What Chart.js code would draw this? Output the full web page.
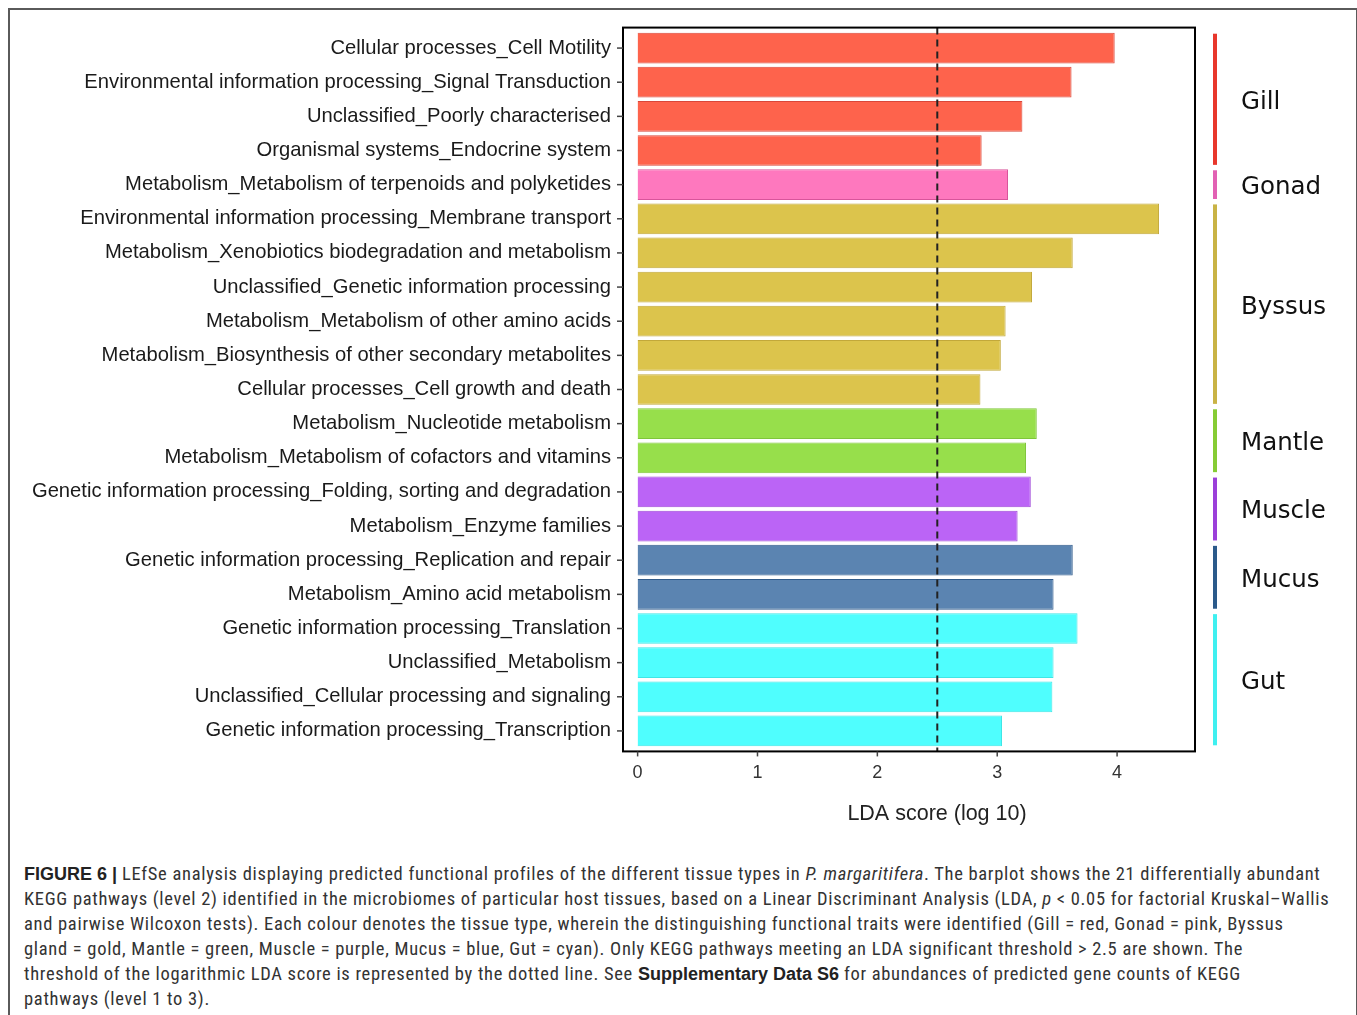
<!DOCTYPE html>
<html>
<head>
<meta charset="utf-8">
<script src="https://cdn.jsdelivr.net/npm/chart.js@4/dist/chart.umd.min.js"></script>
<style>
  body { margin: 0; background: #fff; }
  #frame {
    position: absolute; left: 8px; top: 8px; width: 1346px; height: 1020px;
    border: 2px solid #5a5a5a; border-bottom: none;
  }
  #chart_box { position: absolute; left: 0; top: 0; width: 1357px; height: 850px; }
  #caption {
    position: absolute; left: 24px; top: 862px; width: 1330px;
    font-family: "Liberation Sans Narrow", "Roboto Condensed", "Liberation Sans", Arial, sans-serif;
    font-size: 18.5px; line-height: 25px; letter-spacing: 0.7px; color: #333; white-space: nowrap;
  }
  #caption b { color: #222; letter-spacing: 0; font-family: "Liberation Sans", Arial, sans-serif; font-size: 18px; }
</style>
</head>
<body>
<div id="frame"></div>
<div id="chart_box"><canvas id="lefse"></canvas></div>
<div id="caption">
<b>FIGURE 6 |</b> LEfSe analysis displaying predicted functional profiles of the different tissue types in <i>P. margaritifera</i>. The barplot shows the 21 differentially abundant<br>
KEGG pathways (level 2) identified in the microbiomes of particular host tissues, based on a Linear Discriminant Analysis (LDA, <i>p</i> &lt; 0.05 for factorial Kruskal–Wallis<br>
and pairwise Wilcoxon tests). Each colour denotes the tissue type, wherein the distinguishing functional traits were identified (Gill = red, Gonad = pink, Byssus<br>
gland = gold, Mantle = green, Muscle = purple, Mucus = blue, Gut = cyan). Only KEGG pathways meeting an LDA significant threshold &gt; 2.5 are shown. The<br>
threshold of the logarithmic LDA score is represented by the dotted line. See <b>Supplementary Data S6</b> for abundances of predicted gene counts of KEGG<br>
pathways (level 1 to 3).
</div>
<script>
"use strict";

// KEGG pathways (top to bottom)
const pathways = [
  "Cellular processes_Cell Motility",
  "Environmental information processing_Signal Transduction",
  "Unclassified_Poorly characterised",
  "Organismal systems_Endocrine system",
  "Metabolism_Metabolism of terpenoids and polyketides",
  "Environmental information processing_Membrane transport",
  "Metabolism_Xenobiotics biodegradation and metabolism",
  "Unclassified_Genetic information processing",
  "Metabolism_Metabolism of other amino acids",
  "Metabolism_Biosynthesis of other secondary metabolites",
  "Cellular processes_Cell growth and death",
  "Metabolism_Nucleotide metabolism",
  "Metabolism_Metabolism of cofactors and vitamins",
  "Genetic information processing_Folding, sorting and degradation",
  "Metabolism_Enzyme families",
  "Genetic information processing_Replication and repair",
  "Metabolism_Amino acid metabolism",
  "Genetic information processing_Translation",
  "Unclassified_Metabolism",
  "Unclassified_Cellular processing and signaling",
  "Genetic information processing_Transcription",
];

const lda_scores = [3.98, 3.62, 3.21, 2.87, 3.09, 4.35, 3.63, 3.29, 3.07, 3.03, 2.86,
  3.33, 3.24, 3.28, 3.17, 3.63, 3.47, 3.67, 3.47, 3.46, 3.04];

const pathway_tissue = ["Gill", "Gill", "Gill", "Gill", "Gonad",
  "Byssus", "Byssus", "Byssus", "Byssus", "Byssus", "Byssus",
  "Mantle", "Mantle", "Muscle", "Muscle", "Mucus", "Mucus",
  "Gut", "Gut", "Gut", "Gut"];

const tissues = ["Gill", "Gonad", "Byssus", "Mantle", "Muscle", "Mucus", "Gut"];
const x_ticks = [0, 1, 2, 3, 4];
const lda_threshold = 2.5;
const x_title = "LDA score (log 10)";

// farben
const bar_fill = {
  Gill: "#fe634c", Gonad: "#fe78be", Byssus: "#dcc44c", Mantle: "#97df4b",
  Muscle: "#bb64f6", Mucus: "#5b84b1", Gut: "#4ffefe",
};
const bar_line = {
  Gill: "#d9473a", Gonad: "#d8559b", Byssus: "#c2a83a", Mantle: "#7fc63a",
  Muscle: "#9e48d8", Mucus: "#2f5a8a", Gut: "#3fe6e6",
};
const strip_colour = {
  Gill: "#e8372c", Gonad: "#e261b4", Byssus: "#c9b345", Mantle: "#86cc35",
  Muscle: "#9b3fd9", Mucus: "#2b5a8a", Gut: "#3ff0f0",
};

// Rahmen, Ticks, Schwellenlinie und Gewebe-Streifen
const lefse_extras = {
  id: "lefse_extras",
  afterDatasetsDraw(chart) {
    const { ctx, chartArea, scales } = chart;
    const x = scales.x, y = scales.y;
    const step = y.getPixelForValue(1) - y.getPixelForValue(0);
    const top = chartArea.top - 0.1 * step;
    const bottom = chartArea.bottom + 0.1 * step;
    ctx.save();

    // dashed threshold
    const tx = x.getPixelForValue(lda_threshold);
    ctx.strokeStyle = "#222";
    ctx.lineWidth = 2;
    ctx.setLineDash([7, 5]);
    ctx.beginPath();
    ctx.moveTo(tx, top);
    ctx.lineTo(tx, bottom);
    ctx.stroke();
    ctx.setLineDash([]);

    // frame
    ctx.strokeStyle = "#000";
    ctx.lineWidth = 2;
    ctx.strokeRect(chartArea.left, top, chartArea.right - chartArea.left, bottom - top);

    // tick marks
    ctx.strokeStyle = "#444";
    ctx.lineWidth = 1.5;
    pathways.forEach((p, i) => {
      const py = y.getPixelForValue(i);
      ctx.beginPath();
      ctx.moveTo(chartArea.left - 6, py);
      ctx.lineTo(chartArea.left, py);
      ctx.stroke();
    });
    x_ticks.forEach((v) => {
      const px = x.getPixelForValue(v);
      ctx.beginPath();
      ctx.moveTo(px, bottom);
      ctx.lineTo(px, bottom + 5);
      ctx.stroke();
    });

    // axis title (centred like the original, a bit right of the panel middle)
    ctx.fillStyle = "#222";
    ctx.font = "21.5px 'Liberation Sans'";
    ctx.textAlign = "center";
    ctx.textBaseline = "middle";
    ctx.fillText(x_title, (chartArea.left + chartArea.right) / 2 + 28, 814);

    // tissue strips + names
    const meta = chart.getDatasetMeta(0);
    const stripX = chartArea.right + 18;
    ctx.font = "24.5px 'DejaVu Sans'";
    ctx.textAlign = "left";
    tissues.forEach((t) => {
      const idx = pathway_tissue.map((g, i) => (g === t ? i : -1)).filter((i) => i >= 0);
      const first = meta.data[idx[0]];
      const last = meta.data[idx[idx.length - 1]];
      const y0 = first.y - first.height / 2 + 1;
      const y1 = last.y + last.height / 2 - 1;
      ctx.fillStyle = strip_colour[t];
      ctx.fillRect(stripX, y0, 4, y1 - y0);
      ctx.fillStyle = "#111";
      ctx.fillText(t, stripX + 28, (y0 + y1) / 2 + 3);
    });
    ctx.restore();
  },
};

const config = {
  type: "bar",
  data: {
    labels: pathways,
    datasets: [
      {
        data: lda_scores,
        backgroundColor: pathway_tissue.map((t) => bar_fill[t]),
        borderColor: pathway_tissue.map((t) => bar_line[t]),
        borderWidth: 1,
        barPercentage: 0.9,
        categoryPercentage: 1,
      },
    ],
  },
  options: {
    indexAxis: "y",
    responsive: true,
    maintainAspectRatio: false,
    animation: false,
    layout: { padding: { top: 31, right: 162, left: 0, bottom: 0 } },
    plugins: { legend: { display: false }, tooltip: { enabled: false } },
    scales: {
      x: {
        type: "linear",
        min: -0.122,
        max: 4.65,
        afterBuildTicks: (scale) => {
          scale.ticks = x_ticks.map((v) => ({ value: v }));
        },
        afterFit: (scale) => {
          scale.height = 102;
        },
        grid: { display: false, drawTicks: false },
        border: { display: false },
        ticks: {
          padding: 14,
          color: "#333",
          font: { family: "Liberation Sans", size: 18 },
        },
      },
      y: {
        type: "category",
        offset: true,
        afterFit: (scale) => {
          scale.width = 623;
        },
        grid: { display: false, drawTicks: false },
        border: { display: false },
        ticks: {
          padding: 12,
          color: "#1a1a1a",
          autoSkip: false,
          font: { family: "Liberation Sans", size: 20.2 },
        },
      },
    },
  },
  plugins: [lefse_extras],
};

new Chart(document.getElementById("lefse"), config);
</script>
</body>
</html>
